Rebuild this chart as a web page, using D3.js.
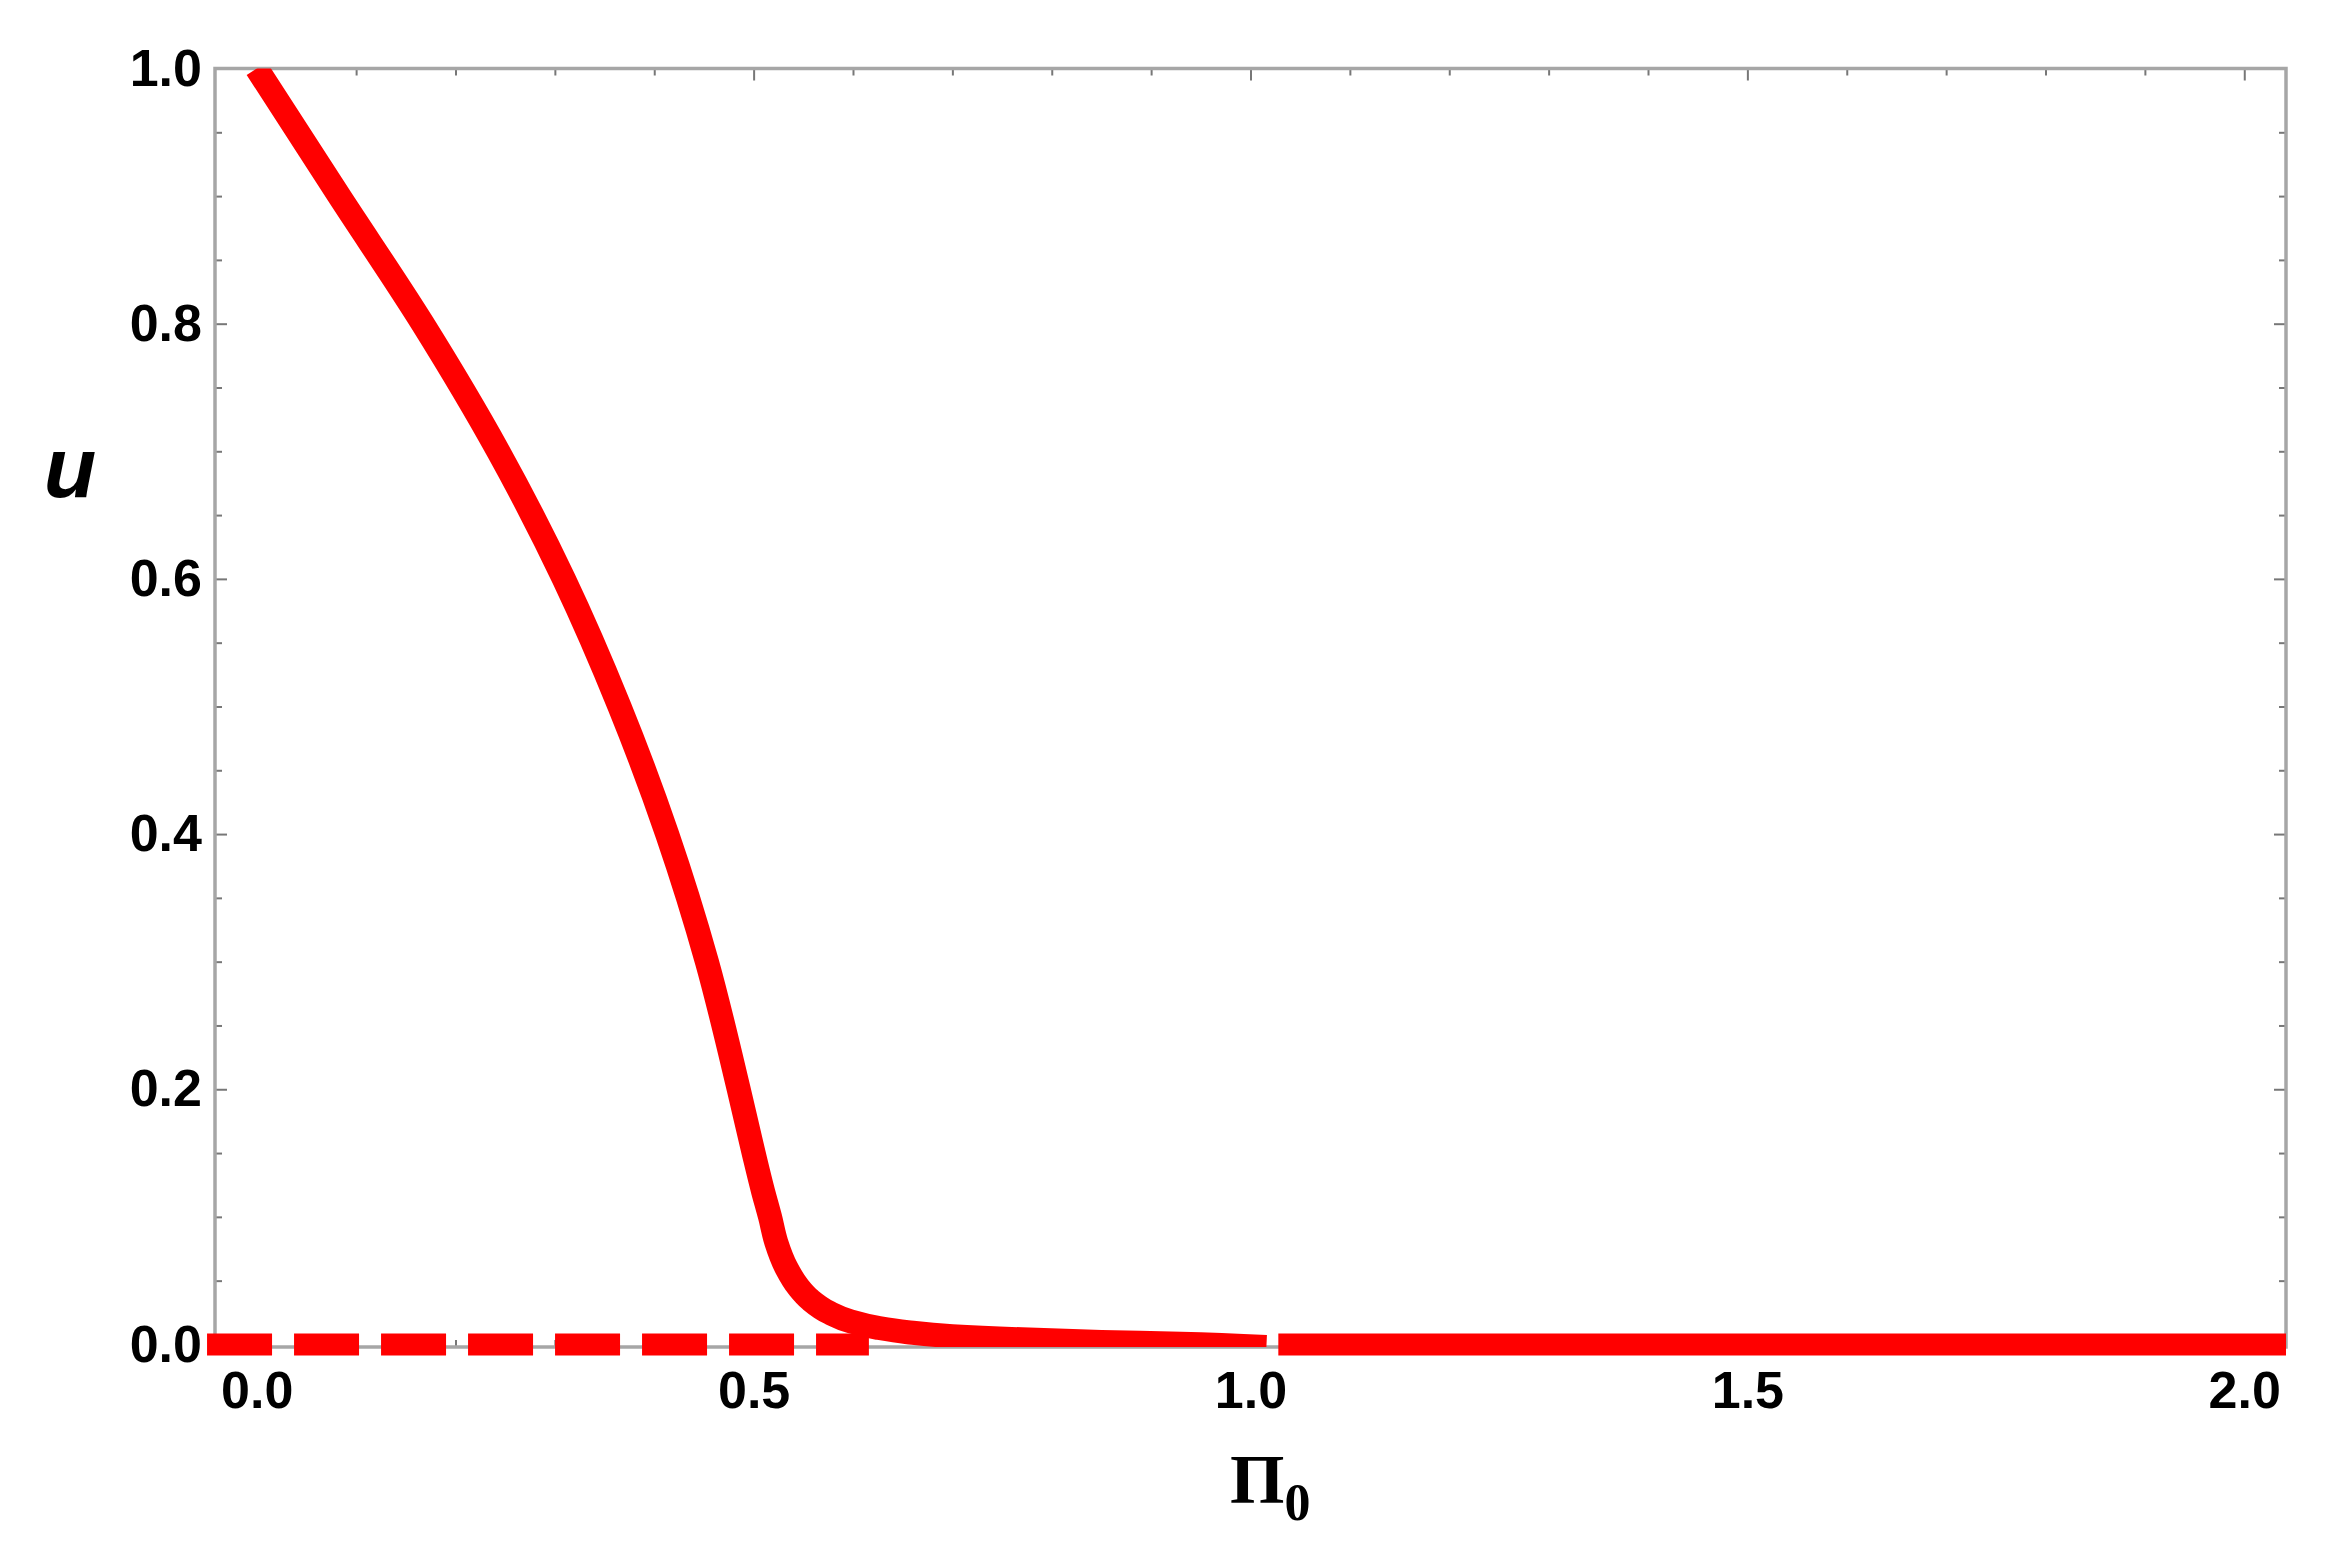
<!DOCTYPE html>
<html>
<head>
<meta charset="utf-8">
<script src="https://cdn.jsdelivr.net/npm/d3@7"></script>
<style>
  body { margin: 0; background: #fff; }
  svg { display: block; }
</style>
</head>
<body>
<svg id="chart" width="2332" height="1544"></svg>
<script>
// values
var piValues = [0, 0.083, 0.167, 0.243, 0.309, 0.365, 0.413, 0.453, 0.485, 0.500, 0.5095,
                0.5165, 0.5228, 0.533, 0.545, 0.557, 0.576, 0.598, 0.625, 0.655, 0.70, 0.77,
                0.85, 0.93, 1.016]
var uValues = [1, 0.9, 0.8, 0.7, 0.6, 0.5, 0.4, 0.3, 0.2, 0.15, 0.12,
               0.1, 0.08, 0.06, 0.045, 0.035, 0.025, 0.018, 0.013, 0.0096, 0.0065, 0.004,
               0.002, 0.0005, -0.002]

// the u = 0 branch: dashed part, then solid part
var dashedBranch = [{pi: -0.05, u: 0}, {pi: 0.616, u: 0}]
var solidBranch = [{pi: 1.028, u: 0}, {pi: 2.042, u: 0}]

var xMajor = [0, 0.5, 1, 1.5, 2]
var xMinor = [0.1, 0.2, 0.3, 0.4, 0.6, 0.7, 0.8, 0.9, 1.1, 1.2, 1.3, 1.4, 1.6, 1.7, 1.8, 1.9]
var yMajor = [0, 0.2, 0.4, 0.6, 0.8, 1]
var yMinor = [0.05, 0.1, 0.15, 0.25, 0.3, 0.35, 0.45, 0.5, 0.55, 0.65, 0.7, 0.75, 0.85, 0.9, 0.95]

var curveData = piValues.map(function(p, i) { return {pi: p, u: uValues[i]} })

// frame edges in pixels
var frameLeft = 215, frameRight = 2286, frameTop = 68.5, frameBottom = 1347

const xScale = d3.scaleLinear()
                .domain([-0.042, 2.042])
                .range([frameLeft, frameRight])

const yScale = d3.scaleLinear()
                .domain([-0.002, 1])
                .range([frameBottom, frameTop])

const svg = d3.select('#chart')

svg.append('defs').append('clipPath')
    .attr('id', 'plotClip')
  .append('rect')
    .attr('x', frameLeft)
    .attr('y', frameTop)
    .attr('width', frameRight - frameLeft)
    .attr('height', frameBottom - frameTop)

var fmt = d3.format('.1f')
var tickFont = '"Liberation Sans", Arial, Helvetica, sans-serif'

function styleAxis(g, labels) {
  g.select('.domain').remove()
  g.selectAll('line').attr('stroke', '#777').attr('stroke-width', 2)
  if (labels) {
    g.selectAll('text')
      .attr('fill', '#000')
      .attr('font-family', tickFont)
      .attr('font-weight', 'bold')
      .attr('font-size', 52)
  } else {
    g.selectAll('text').remove()
  }
}

// bottom axis (labels) + minor ticks
svg.append('g')
    .attr('transform', 'translate(0,' + frameBottom + ')')
    .call(d3.axisBottom(xScale).tickValues(xMajor).tickSize(-12).tickPadding(24).tickFormat(fmt))
    .call(styleAxis, true)
svg.append('g')
    .attr('transform', 'translate(0,' + frameBottom + ')')
    .call(d3.axisBottom(xScale).tickValues(xMinor).tickSize(-7))
    .call(styleAxis, false)

// top mirrored ticks
svg.append('g')
    .attr('transform', 'translate(0,' + frameTop + ')')
    .call(d3.axisTop(xScale).tickValues(xMajor).tickSize(-12))
    .call(styleAxis, false)
svg.append('g')
    .attr('transform', 'translate(0,' + frameTop + ')')
    .call(d3.axisTop(xScale).tickValues(xMinor).tickSize(-7))
    .call(styleAxis, false)

// left axis (labels) + minor ticks
svg.append('g')
    .attr('transform', 'translate(' + frameLeft + ',0)')
    .call(d3.axisLeft(yScale).tickValues(yMajor).tickSize(-12).tickPadding(13).tickFormat(fmt))
    .call(styleAxis, true)
svg.append('g')
    .attr('transform', 'translate(' + frameLeft + ',0)')
    .call(d3.axisLeft(yScale).tickValues(yMinor).tickSize(-7))
    .call(styleAxis, false)

// right mirrored ticks
svg.append('g')
    .attr('transform', 'translate(' + frameRight + ',0)')
    .call(d3.axisRight(yScale).tickValues(yMajor).tickSize(-12))
    .call(styleAxis, false)
svg.append('g')
    .attr('transform', 'translate(' + frameRight + ',0)')
    .call(d3.axisRight(yScale).tickValues(yMinor).tickSize(-7))
    .call(styleAxis, false)

// frame
svg.append('rect')
    .attr('x', frameLeft)
    .attr('y', frameTop)
    .attr('width', frameRight - frameLeft)
    .attr('height', frameBottom - frameTop)
    .attr('fill', 'none')
    .attr('stroke', '#a6a6a6')
    .attr('stroke-width', 3.5)

var line = d3.line()
          .x(function(d) { return xScale(d.pi) })
          .y(function(d) { return yScale(d.u) })

svg.append('path')
    .datum(dashedBranch)
    .attr('d', line)
    .attr('fill', 'none')
    .attr('stroke', '#ff0000')
    .attr('stroke-width', 22)
    .attr('stroke-dasharray', '65,22')

svg.append('path')
    .datum(solidBranch)
    .attr('d', line)
    .attr('fill', 'none')
    .attr('stroke', '#ff0000')
    .attr('stroke-width', 22)

// u decreases along the whole branch, so a monotone-in-y spline keeps the knee smooth
svg.append('path')
    .datum(curveData)
    .attr('d', line.curve(d3.curveMonotoneY))
    .attr('clip-path', 'url(#plotClip)')
    .attr('fill', 'none')
    .attr('stroke', '#ff0000')
    .attr('stroke-width', 24)
    .attr('stroke-linejoin', 'round')

// axis labels
svg.append('text')
    .attr('x', 70)
    .attr('y', 497)
    .attr('text-anchor', 'middle')
    .attr('font-family', tickFont)
    .attr('font-weight', 'bold')
    .attr('font-style', 'italic')
    .attr('font-size', 86)
    .text('u')

var xLabel = svg.append('text')
    .attr('x', 1230)
    .attr('y', 1503)
    .attr('font-family', '"Liberation Serif", "Times New Roman", serif')
    .attr('font-weight', 'bold')
    .attr('font-size', 70)
xLabel.append('tspan').text('Π')
xLabel.append('tspan')
    .attr('dy', 17)
    .attr('font-size', 52)
    .text('0')
</script>
</body>
</html>
